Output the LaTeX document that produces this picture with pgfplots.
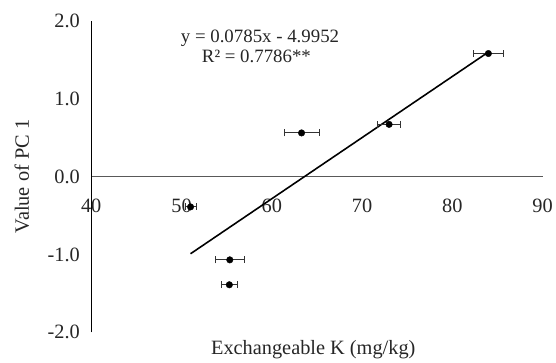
\documentclass[border=0pt]{standalone}
\usepackage{fontspec}
\setmainfont{Liberation Serif}
\usepackage{pgfplots}
\pgfplotsset{compat=1.18}
\begin{document}
\begin{tikzpicture}
\begin{axis}[
 scale only axis, width=455pt, height=314pt,
 xmin=40, xmax=90, ymin=-2, ymax=2,
 axis x line=middle, axis y line=left,
 hide obscured x ticks=false,
 x axis line style={-, draw=black!65, line width=1.2pt},
 y axis line style={-, draw=black, line width=1.2pt},
 xtick={40,50,...,90}, ytick={-2,-1,0,1,2},
 xticklabels={40,50,60,70,80,90},
 yticklabels={-2.0,-1.0,0.0,1.0,2.0},
 major tick length=0pt,
 tick label style={font=\fontsize{20.5}{24}\selectfont, text=black!85},
 xticklabel style={yshift=-19pt},
 yticklabel style={xshift=-8pt},
 clip=false,
]
\addplot[black, line width=1.6pt] coordinates {(51,-0.9917) (84,1.5988)};
\addplot[only marks, mark=*, mark size=3.3pt, black,
  error bars/.cd, x dir=both, x explicit,
  error bar style={line width=0.9pt, black!80},
  error mark options={rotate=90, mark size=3.5pt, line width=0.9pt, black!80}]
  table[x=x, y=y, x error=e]{
x y e
84.0 1.58 1.65
73.0 0.67 1.3
63.3 0.56 1.95
51.0 -0.39 0.6
55.35 -1.07 1.6
55.3 -1.39 0.93
};
\node[anchor=base, font=\fontsize{19}{22}\selectfont, text=black!85] at (axis cs:58.7,1.718) {y = 0.0785x - 4.9952};
\node[anchor=base, font=\fontsize{19}{22}\selectfont, text=black!85] at (axis cs:58.3,1.46) {R² = 0.7786**};
\node[font=\fontsize{20.5}{24}\selectfont, text=black!85] at (axis cs:64.6,-2.22) {Exchangeable K (mg/kg)};
\node[rotate=90, font=\fontsize{20.5}{24}\selectfont, text=black!85] at ([xshift=-70pt]axis cs:40,0) {Value of PC 1};
\path (rel axis cs:0,0) ++(-92pt,-30pt) rectangle ([shift={(9pt,21pt)}]rel axis cs:1,1);
\end{axis}
\end{tikzpicture}
\end{document}
